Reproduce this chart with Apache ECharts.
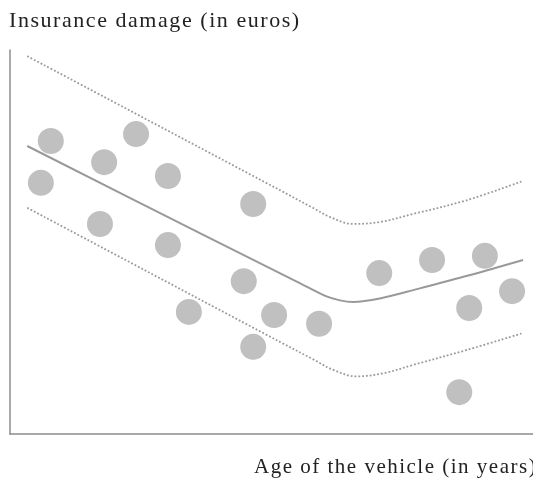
<!DOCTYPE html>
<html>
<head>
<meta charset="utf-8">
<script src="https://cdn.jsdelivr.net/npm/echarts@6/dist/echarts.min.js"></script>
<style>
html,body{margin:0;padding:0;background:#fff;}
#chart{width:533px;height:481px;}
</style>
</head>
<body>
<div id="chart"></div>
<script>
// Observations: vehicle age (years) vs insurance damage (euros, relative units)
const ageX = [0.59, 0.78, 1.72, 1.80, 2.41, 3.02, 3.02, 3.42, 4.47, 4.65, 4.65, 5.05, 5.91, 7.06, 8.07, 8.59, 8.78, 9.08, 9.60];
const damageY = [654, 763, 547, 708, 781, 672, 492, 318, 398, 599, 227, 310, 287, 419, 453, 109, 328, 464, 372];

// Fitted trend (solid)
const trendX = [0.33, 3.63, 5.54, 6.04, 6.31, 6.56, 7.07, 7.80, 8.80, 9.81];
const trendY = [750, 523, 393, 359, 348, 344, 353, 378, 414, 453];

// Upper band (dotted)
const upperX = [0.33, 5.16, 5.79, 6.12, 6.56, 7.07, 7.71, 8.74, 9.81];
const upperY = [984, 635, 589, 565, 547, 552, 573, 609, 659];

// Lower band (dotted)
const lowerX = [0.33, 5.16, 5.79, 6.18, 6.62, 7.17, 7.71, 8.74, 9.81];
const lowerY = [589, 240, 195, 167, 150, 159, 180, 219, 263];

const titleText = 'Insurance damage (in euros)';
const xLabelText = 'Age of the vehicle (in years)';

// letter-spaced text like the reference
(function(){
  const proto = CanvasRenderingContext2D.prototype;
  const orig = proto.fillText;
  proto.fillText = function(t, x, y, m){
    try { this.letterSpacing = (t === titleText) ? '1.55px' : '1.5px'; } catch(e) {}
    return m === undefined ? orig.call(this, t, x, y) : orig.call(this, t, x, y, m);
  };
})();

function zip(a, b){ return a.map((v, i) => [v, b[i]]); }

const chart = echarts.init(document.getElementById('chart'), null, {renderer: 'canvas'});
const font = '"Liberation Serif", "DejaVu Serif", serif';
const dotted = {color: '#9a9a9a', width: 1.8, type: [1.8, 2]};
chart.setOption({
  animation: false,
  backgroundColor: '#fff',
  title: [
    {text: titleText, left: 9, top: 10, padding: 0,
     textStyle: {fontFamily: font, fontSize: 22, fontWeight: 'normal', color: '#222'}},
    {text: xLabelText, left: 254, top: 457, padding: 0,
     textStyle: {fontFamily: font, fontSize: 21, fontWeight: 'normal', color: '#222'}}
  ],
  grid: {left: 10, right: 0, top: 50, bottom: 47},
  xAxis: {
    type: 'value', min: 0, max: 10,
    axisLine: {show: true, onZero: false, lineStyle: {color: '#8c8c8c', width: 1.5}},
    axisTick: {show: false}, axisLabel: {show: false}, splitLine: {show: false}
  },
  yAxis: {
    type: 'value', min: 0, max: 1000,
    axisLine: {show: true, onZero: false, lineStyle: {color: '#8c8c8c', width: 1.5}},
    axisTick: {show: false}, axisLabel: {show: false}, splitLine: {show: false}
  },
  series: [
    {
      type: 'line', data: zip(upperX, upperY), smooth: 0.35, showSymbol: false,
      lineStyle: dotted, z: 1
    },
    {
      type: 'line', data: zip(lowerX, lowerY), smooth: 0.35, showSymbol: false,
      lineStyle: dotted, z: 1
    },
    {
      type: 'scatter', data: zip(ageX, damageY), symbol: 'circle', symbolSize: 26,
      itemStyle: {color: '#b0b0b0'}, z: 2
    },
    {
      type: 'line', data: zip(trendX, trendY), smooth: 0.35, showSymbol: false,
      lineStyle: {color: '#999', width: 2}, z: 3
    }
  ]
});
</script>
</body>
</html>
